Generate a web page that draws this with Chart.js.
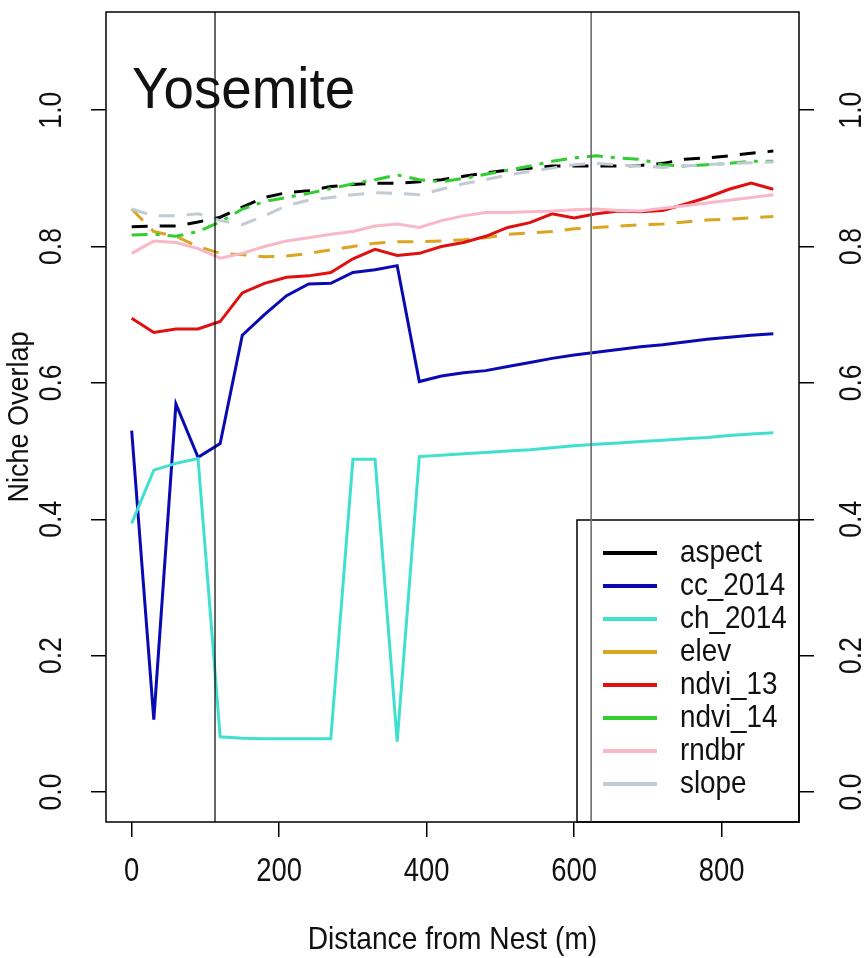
<!DOCTYPE html>
<html>
<head>
<meta charset="utf-8">
<script src="https://cdn.jsdelivr.net/npm/chart.js@4.4.1/dist/chart.umd.min.js"></script>
<style>
    html, body { margin: 0; padding: 0; background: #fff; }
    canvas { display: block; }
</style>
</head>
<body>
<canvas id="chart" width="864" height="958"></canvas>
<script>
// distance from nest (m)
var distance = [0, 30, 60, 90, 120, 150, 180, 210, 240, 270, 300, 330, 360, 390, 420,
    450, 480, 510, 540, 570, 600, 630, 660, 690, 720, 750, 780, 810, 840, 870]

var aspect = [0.829, 0.830, 0.830, 0.836, 0.843, 0.858, 0.872, 0.879, 0.882, 0.888, 0.891, 0.893, 0.893, 0.895, 0.898,
    0.903, 0.908, 0.912, 0.915, 0.918, 0.918, 0.918, 0.918, 0.919, 0.922, 0.928, 0.930, 0.933, 0.937, 0.940]
var cc_2014 = [0.530, 0.106, 0.569, 0.491, 0.511, 0.670, 0.700, 0.728, 0.745, 0.746, 0.762, 0.766, 0.772, 0.602, 0.610,
    0.615, 0.618, 0.624, 0.630, 0.636, 0.641, 0.645, 0.649, 0.653, 0.656, 0.660, 0.664, 0.667, 0.670, 0.672]
var ch_2014 = [0.394, 0.472, 0.482, 0.489, 0.081, 0.079, 0.078, 0.078, 0.078, 0.078, 0.488, 0.488, 0.074, 0.492, 0.494,
    0.496, 0.498, 0.500, 0.502, 0.505, 0.508, 0.510, 0.512, 0.514, 0.516, 0.518, 0.520, 0.523, 0.525, 0.527]
var elev = [0.855, 0.822, 0.815, 0.800, 0.790, 0.788, 0.785, 0.786, 0.790, 0.795, 0.800, 0.805, 0.807, 0.807, 0.808,
    0.810, 0.813, 0.818, 0.820, 0.822, 0.826, 0.828, 0.830, 0.832, 0.833, 0.836, 0.839, 0.840, 0.842, 0.844]
var ndvi_13 = [0.695, 0.674, 0.679, 0.679, 0.690, 0.732, 0.746, 0.755, 0.757, 0.762, 0.782, 0.796, 0.787, 0.790, 0.800,
    0.806, 0.815, 0.828, 0.835, 0.848, 0.842, 0.848, 0.852, 0.851, 0.853, 0.862, 0.872, 0.884, 0.893, 0.884]
var ndvi_14 = [0.817, 0.818, 0.815, 0.822, 0.836, 0.855, 0.866, 0.872, 0.878, 0.885, 0.892, 0.898, 0.905, 0.898, 0.895,
    0.900, 0.906, 0.912, 0.918, 0.925, 0.930, 0.933, 0.930, 0.928, 0.920, 0.918, 0.920, 0.922, 0.925, 0.925]
var rndbr = [0.790, 0.808, 0.806, 0.797, 0.783, 0.790, 0.800, 0.808, 0.813, 0.818, 0.822, 0.830, 0.833, 0.828, 0.838,
    0.845, 0.850, 0.850, 0.851, 0.852, 0.854, 0.855, 0.853, 0.852, 0.856, 0.860, 0.864, 0.868, 0.872, 0.876]
var slope = [0.855, 0.845, 0.845, 0.848, 0.838, 0.832, 0.845, 0.860, 0.868, 0.872, 0.876, 0.879, 0.878, 0.876, 0.884,
    0.892, 0.898, 0.905, 0.910, 0.915, 0.920, 0.922, 0.920, 0.918, 0.916, 0.918, 0.920, 0.922, 0.923, 0.924]

// vertical reference lines (m)
var cutoffs = [113, 623]

var xTicks = [0, 200, 400, 600, 800]
var yTicks = [0.0, 0.2, 0.4, 0.6, 0.8, 1.0]

var xMin = -34.8, xMax = 904.8
var yMin = -0.044, yMax = 1.144

var series = [
    ["aspect", aspect, "#000000", [16, 12]],
    ["cc_2014", cc_2014, "#0a0ab4", []],
    ["ch_2014", ch_2014, "#40e0d0", []],
    ["elev", elev, "#daa520", [16, 12]],
    ["ndvi_13", ndvi_13, "#e01010", []],
    ["ndvi_14", ndvi_14, "#32cd32", [16, 8, 4, 8]],
    ["rndbr", rndbr, "#f9b8c8", []],
    ["slope", slope, "#c2cbd4", [16, 12]]
]

function points(values) {
    var pts = []
    for (var i = 0; i < distance.length; i++) {
        pts.push({ x: distance[i], y: values[i] })
    }
    return pts
}

var datasets = []
for (var s in series) {
    datasets.push({
        label: series[s][0],
        data: points(series[s][1]),
        borderColor: series[s][2],
        borderDash: series[s][3],
        borderWidth: 3,
        pointRadius: 0,
        order: 100 - s
    })
}
// cutoff lines, the second one goes over the legend
datasets.push({ label: "", data: [{ x: cutoffs[0], y: yMin }, { x: cutoffs[0], y: yMax }],
    borderColor: "#000", borderWidth: 1.2, pointRadius: 0, noLegend: true, order: 10 })
datasets.push({ label: "", data: [{ x: cutoffs[1], y: yMin }, { x: cutoffs[1], y: yMax }],
    borderColor: "#6e6e6e", borderWidth: 1.6, pointRadius: 0, noLegend: true, overLegend: true, order: 1 })

var font = '"Liberation Sans", Arial, sans-serif'

// R output here looks a little condensed, so squeeze text sideways
function drawText(ctx, str, x, y, size, align, rot, squeeze) {
    ctx.save()
    ctx.translate(x, y)
    if (rot) ctx.rotate(rot)
    ctx.scale(squeeze || 0.85, 1)
    ctx.font = size + "px " + font
    ctx.fillStyle = "#111"
    ctx.textAlign = align || "center"
    ctx.textBaseline = "middle"
    ctx.fillText(str, 0, 0)
    ctx.restore()
}

function drawLegend(chart) {
    var ctx = chart.ctx
    var area = chart.chartArea
    var w = 222, h = 302
    var left = area.right - w, top = area.bottom - h
    ctx.save()
    ctx.fillStyle = "#fff"
    ctx.fillRect(left, top, w, h)
    ctx.strokeStyle = "#000"
    ctx.lineWidth = 1.5
    ctx.strokeRect(left, top, w, h)
    var rows = chart.data.datasets.filter(d => !d.noLegend)
    for (var i = 0; i < rows.length; i++) {
        var y = top + 33 + i * 33
        ctx.strokeStyle = rows[i].borderColor
        ctx.lineWidth = 4
        ctx.setLineDash([])
        ctx.beginPath()
        ctx.moveTo(left + 26, y)
        ctx.lineTo(left + 80, y)
        ctx.stroke()
        drawText(ctx, rows[i].label, left + 103, y, 32, "left", 0, 0.87)
    }
    ctx.restore()
}

var framePlugin = {
    id: "frame",
    beforeDatasetDraw: function (chart, args) {
        if (chart.data.datasets[args.index].overLegend) drawLegend(chart)
    },
    afterDraw: function (chart) {
        var ctx = chart.ctx
        var area = chart.chartArea
        ctx.save()
        ctx.strokeStyle = "#000"
        ctx.lineWidth = 1.5
        ctx.strokeRect(area.left, area.top, area.right - area.left, area.bottom - area.top)
        ctx.restore()

        var xs = chart.scales.x
        xs.ticks.forEach(function (t) {
            drawText(ctx, String(t.value), xs.getPixelForValue(t.value), 872, 33, "center", 0, 0.83)
        })
        var ys = chart.scales.y
        ys.ticks.forEach(function (t) {
            var py = ys.getPixelForValue(t.value)
            drawText(ctx, t.value.toFixed(1), 52, py, 32, "center", -Math.PI / 2, 0.83)
            drawText(ctx, t.value.toFixed(1), area.right + 53, py, 32, "center", -Math.PI / 2, 0.83)
        })

        drawText(ctx, "Distance from Nest (m)", (area.left + area.right) / 2, 940, 32, "center", 0, 0.88)
        drawText(ctx, "Niche Overlap", 20, (area.top + area.bottom) / 2, 30, "center", -Math.PI / 2, 0.9)
        drawText(ctx, "Yosemite", 132, 92, 57, "left", 0, 0.96)
    }
}

function axisOpts(pos, min, max, ticks, size) {
    return {
        type: "linear",
        position: pos,
        min: min,
        max: max,
        afterBuildTicks: function (scale) {
            scale.ticks = ticks.map(v => ({ value: v }))
        },
        afterFit: function (scale) {
            if (pos == "bottom") scale.height = size
            else scale.width = size
        },
        ticks: { display: false },
        grid: { drawOnChartArea: false, color: "#000", lineWidth: 1.5, tickLength: 15 },
        border: { display: false }
    }
}

var ctx = document.getElementById("chart").getContext("2d")
var myChart = new Chart(ctx, {
    type: "line",
    data: { datasets: datasets },
    options: {
        responsive: false,
        animation: false,
        devicePixelRatio: 1,
        layout: { padding: { top: 12, left: 0, right: 0, bottom: 0 } },
        elements: { line: { tension: 0 } },
        plugins: { legend: { display: false }, tooltip: { enabled: false } },
        scales: {
            x: axisOpts("bottom", xMin, xMax, xTicks, 136),
            y: axisOpts("left", yMin, yMax, yTicks, 106),
            y2: axisOpts("right", yMin, yMax, yTicks, 65)
        }
    },
    plugins: [framePlugin]
})
</script>
</body>
</html>
